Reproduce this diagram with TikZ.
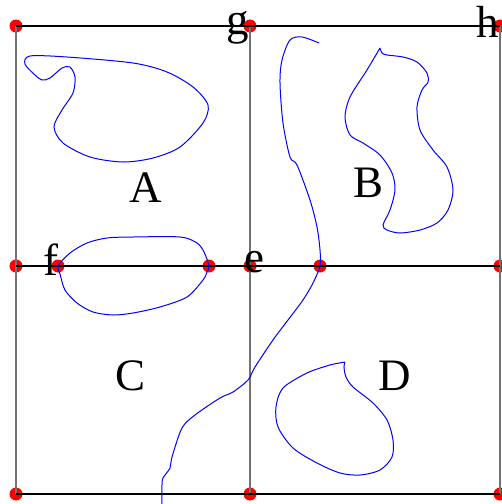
\documentclass[tikz,border=0pt]{standalone}
\usepackage{fontspec}
\setmainfont{Liberation Serif}
\begin{document}
\begin{tikzpicture}[
        x=1pt, y=-1pt,
        font=\fontsize{45}{54}\selectfont,
        punto/.style={circle, fill=red, inner sep=0pt, minimum size=13pt},
        vert/.style={black!55, line width=1.3pt},
        oriz/.style={black, line width=1.2pt},
        curva/.style={blue, line width=1pt},
        lettera/.style={anchor=base, inner sep=0pt}
    ]
    \useasboundingbox (0,0) rectangle (502,504);

    % --- Punti rossi ---
    \node[punto] (a1) at (16,26) {};
    \node[punto] (g) at (250,26) {};
    \node[punto] (h) at (500,26) {};
    \node[punto] (a2) at (16,266) {};
    \node[punto] (f) at (58,266) {};
    \node[punto] (p1) at (209,266) {};
    \node[punto] (e) at (250,266) {};
    \node[punto] (p2) at (320,266) {};
    \node[punto] (a3) at (500,266) {};
    \node[punto] (a4) at (16,494) {};
    \node[punto] (a5) at (250,494) {};
    \node[punto] (a6) at (500,494) {};

    % --- Griglia ---
    \draw[vert] (a1.center) -- (a4.center);
    \draw[vert] (g.center) -- (a5.center);
    \draw[vert] (h.center) -- (a6.center);
    \draw[oriz] (a1.center) -- (h.center);
    \draw[oriz] (a2.center) -- (a3.center);
    \draw[oriz] (a4.center) -- (a6.center);

    % --- Curve blu ---
    \draw[curva] plot[smooth cycle] coordinates {(25,64) (30,56) (67,57) (133,63)
        (167,72) (193,87) (208,105) (203,123) (180,147) (153,158) (123,162)
        (90,157) (63,143) (54,127) (62,110) (73,93) (75,77) (70,67) (62,68)
        (50,78) (42,80) (35,75)};
    \draw[curva] plot[smooth] coordinates {(380,48) (382,53) (387,55) (403,57)
        (417,62) (427,73) (428,82) (422,90) (417,107) (420,130) (433,150)
        (447,167) (453,190) (448,210) (437,223) (420,230) (400,233) (387,230)
        (383,225) (390,210) (395,190) (392,173) (380,155) (363,143) (350,135)
        (345,117) (350,97) (367,70) (380,48)};
    \draw[curva] plot[smooth cycle] coordinates {(f.center) (70,253) (87,243)
        (107,238) (133,237) (180,237) (197,243) (204,252) (p1.center) (207,272)
        (203,280) (187,297) (160,307) (133,313) (113,315) (93,312) (77,303)
        (65,290) (60,274)};
    \draw[curva] plot[smooth] coordinates {(345,362) (330,365) (307,373) (283,388)
        (276,407) (278,427) (293,448) (317,463) (340,473) (360,475) (380,470)
        (392,457) (393,440) (387,420) (373,403) (353,387) (346,377) (344,367)
        (345,362)};
    \draw[curva] plot[smooth] coordinates {(319,43) (302,37) (290,40) (282,60)
        (280,83) (283,123) (290,157) (297,165) (310,200) (317,227) (320,250)
        (p2.center) (313,283) (303,300) (288,320) (273,340) (255,367) (248,380)
        (233,392) (220,398) (195,415) (182,428) (172,457) (170,468) (163,478)
        (162,485) (162,504)};

    % --- Lettere ---
    \node[lettera] (lg) at (238,34) {g};
    \node[lettera] (lh) at (488,37) {h};
    \node[lettera] (lf) at (51,275) {f};
    \node[lettera] (le) at (254,272) {e};
    \node[lettera] (lA) at (146,202) {A};
    \node[lettera] (lB) at (369,197) {B};
    \node[lettera] (lC) at (131,390) {C};
    \node[lettera] (lD) at (395,390) {D};
\end{tikzpicture}
\end{document}
